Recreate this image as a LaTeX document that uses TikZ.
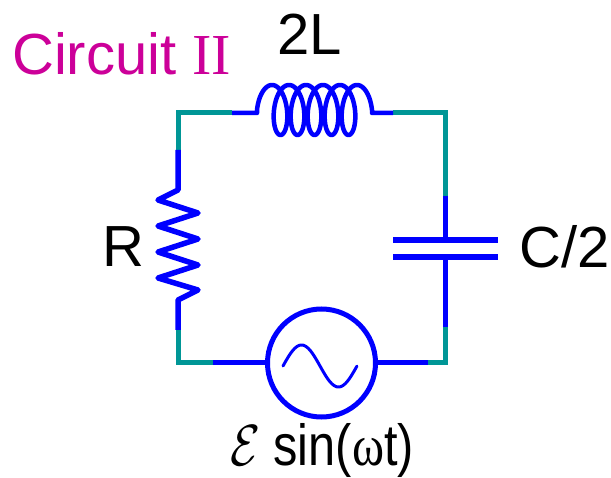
\RequirePackage{fix-cm}
\documentclass[tikz,border=0pt]{standalone}
\usepackage{fontspec}
\setmainfont{Liberation Sans}
\newfontfamily\romanpart{Liberation Serif}
\definecolor{wireblue}{RGB}{0,0,255}
\definecolor{wireteal}{RGB}{0,150,150}
\definecolor{titlemag}{RGB}{204,0,153}

\begin{document}
\begin{tikzpicture}[x=1pt, y=-1pt, every node/.style={font=\fontsize{58}{60}\selectfont, inner sep=0pt},
		lead/.style={draw=wireblue, line width=5pt},
		corner/.style={draw=wireteal, line width=5pt, line join=miter},
		plate/.style={draw=wireblue, line width=6pt}]
			\useasboundingbox[fill=white] (0,0) rectangle (611,478);

			% Corners and terminals
			\coordinate (tl) at (178,113);
			\coordinate (tr) at (445,113);
			\coordinate (br) at (445,363);
			\coordinate (bl) at (178,363);
			\coordinate (tlA) at (232,113);
			\coordinate (tlB) at (178,150);
			\coordinate (trA) at (393,113);
			\coordinate (trB) at (445,196);
			\coordinate (blA) at (213,363);
			\coordinate (blB) at (178,330);
			\coordinate (brA) at (428,363);
			\coordinate (brB) at (445,327);
			\coordinate (Lin) at (257,113);
			\coordinate (Lout) at (372,113);
			\coordinate (Rtop) at (178,190);
			\coordinate (Rbot) at (178,300);
			\coordinate (Ctop) at (445,240);
			\coordinate (Cbot) at (445,257);

			% Source
			\node[circle, draw=wireblue, line width=5pt, minimum size=108pt] (src) at (321.5,363) {};
			\draw[wireblue, line width=3pt, line cap=round] plot[domain=0:1, samples=60, variable=\u] ({283+74*\u}, {366-21*sin(360*\u)});

			% Teal corners
			\draw[corner] (tlB) -- (tl) -- (tlA);
			\draw[corner] (trA) -- (tr) -- (trB);
			\draw[corner] (blB) -- (bl) -- (blA);
			\draw[corner] (brA) -- (br) -- (brB);

			% Inductor
			\draw[lead, line width=4.5pt, line join=round] (tlA) -- (Lin) -- plot[domain=-0.5*pi:10.5*pi, samples=400, variable=\t]
				({272+17*\t/(2*pi)+10.75*sin(\t r)}, {110-25*cos(\t r)}) -- (Lout) -- (trA);

			% Resistor
			\draw[lead, line width=5.5pt, line join=round] (tlB) -- (Rtop) -- (158,200) -- (198,213) -- (158,226) -- (198,239)
				-- (158,252) -- (198,265) -- (158,278) -- (198,290) -- (Rbot) -- (blB);

			% Capacitor
			\draw[lead] (trB) -- (Ctop);
			\draw[lead] (Cbot) -- (brB);
			\draw[plate] (393,240) -- (498,240);
			\draw[plate] (393,257) -- (498,257);

			% Source leads
			\draw[lead] (blA) -- (src.west);
			\draw[lead] (src.east) -- (brA);

			% Labels
			\node[text=titlemag, anchor=base west] (title) at (12,75) {Circuit {\romanpart II}};
			\node[anchor=base west] (lblL) at (277,55) {2L};
			\node[anchor=base west] (lblR) at (102,267) {R};
			\node[anchor=base west] (lblC) at (519,268) {C/2};
			\node[anchor=base] (lblE) at (322,465) {\scalebox{0.84}[1]{$\mathcal{E}$ sin({\romanpart ω}t)}};
		\end{tikzpicture}
\end{document}
